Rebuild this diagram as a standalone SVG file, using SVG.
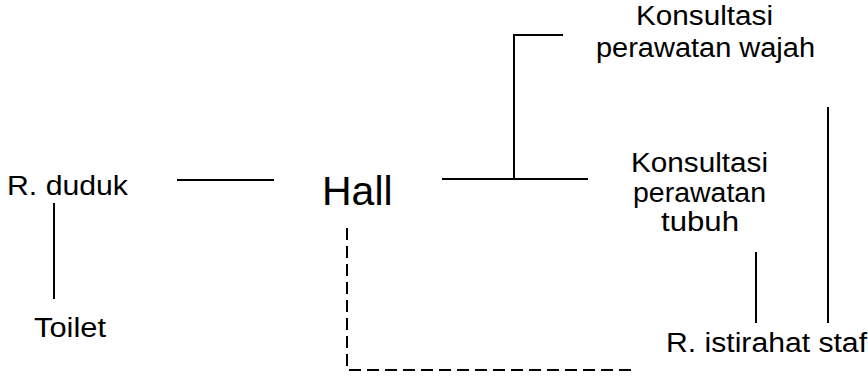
<svg xmlns="http://www.w3.org/2000/svg" width="868" height="376" viewBox="0 0 868 376">
<style>
text{font-family:"Liberation Sans",Arial,sans-serif;fill:#000;font-size:27px}
.big{font-size:41px}
.ln{stroke:#000;stroke-width:2;fill:none}
.dash{stroke:#000;stroke-width:2;fill:none;stroke-dasharray:12 6}
</style>
<rect width="868" height="376" fill="#fff"/>
<g id="connectors">
<line class="ln" x1="177" y1="180" x2="274" y2="180"/>
<line class="ln" x1="54" y1="203" x2="54" y2="299"/>
<line class="ln" x1="442" y1="179" x2="588" y2="179"/>
<polyline class="ln" points="514,179 514,35 563,35"/>
<line class="ln" x1="756" y1="252" x2="756" y2="323"/>
<line class="ln" x1="828" y1="107" x2="828" y2="323"/>
<polyline class="dash" points="347,228 347,370 634,370"/>
</g>
<g id="r-duduk"><text x="7" y="195" textLength="121" lengthAdjust="spacingAndGlyphs">R. duduk</text></g>
<g id="toilet"><text x="34" y="337" textLength="72" lengthAdjust="spacingAndGlyphs">Toilet</text></g>
<g id="hall"><text class="big" x="322" y="205">Hall</text></g>
<g id="konsultasi-wajah">
<text x="636" y="25" textLength="137" lengthAdjust="spacingAndGlyphs">Konsultasi</text>
<text x="596" y="57" textLength="219" lengthAdjust="spacingAndGlyphs">perawatan wajah</text>
</g>
<g id="konsultasi-tubuh">
<text x="631" y="172" textLength="137" lengthAdjust="spacingAndGlyphs">Konsultasi</text>
<text x="633" y="202" textLength="133" lengthAdjust="spacingAndGlyphs">perawatan</text>
<text x="661" y="231" textLength="78" lengthAdjust="spacingAndGlyphs">tubuh</text>
</g>
<g id="r-istirahat-staf"><text x="666" y="352" textLength="201" lengthAdjust="spacingAndGlyphs">R. istirahat staf</text></g>
</svg>
